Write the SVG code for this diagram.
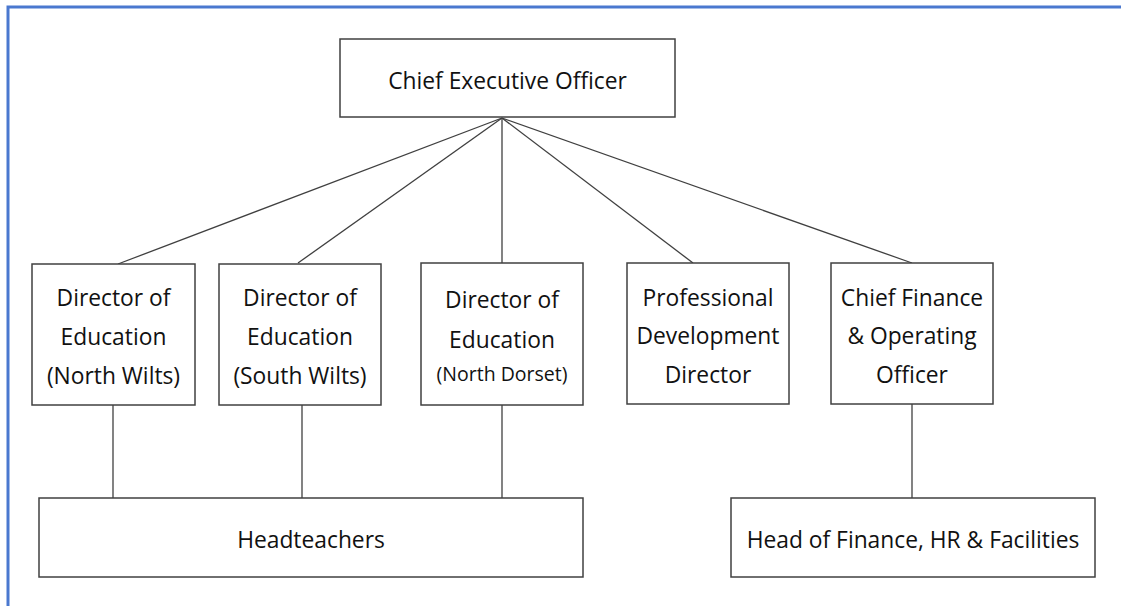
<svg xmlns="http://www.w3.org/2000/svg" width="1121" height="606" viewBox="0 0 1121 606">
<style>
.box{fill:#fff;stroke:#404040;stroke-width:1.5}
.t{font-family:"Open Sans","Noto Sans","Liberation Sans",sans-serif;font-size:22.8px;fill:#111;text-anchor:middle}
.s{font-size:19.5px}
.c line{stroke:#404040;stroke-width:1.3}
</style>
<rect x="0" y="0" width="1121" height="606" fill="#fff"/>
<path d="M8 606 V7 H1121" fill="none" stroke="#4a78cf" stroke-width="3"/>
<g class="c" id="connectors">
<line x1="502" y1="118" x2="118" y2="264"/>
<line x1="502" y1="118" x2="298" y2="263"/>
<line x1="502" y1="118" x2="502" y2="263"/>
<line x1="502" y1="118" x2="693" y2="263"/>
<line x1="502" y1="118" x2="912" y2="263"/>
<line x1="113" y1="405" x2="113" y2="498"/>
<line x1="302" y1="405" x2="302" y2="498"/>
<line x1="502" y1="405" x2="502" y2="498"/>
<line x1="912" y1="404" x2="912" y2="498"/>
</g>
<g id="ceo"><rect class="box" x="340" y="39" width="335" height="78"/><text class="t" x="507.5" y="89">Chief Executive Officer</text></g>
<g id="dir-nw"><rect class="box" x="32" y="264" width="163" height="141"/>
<text class="t" x="113.5" y="306">Director of</text><text class="t" x="113.5" y="345">Education</text><text class="t" x="113.5" y="384">(North Wilts)</text></g>
<g id="dir-sw"><rect class="box" x="219" y="264" width="162" height="141"/>
<text class="t" x="300" y="306">Director of</text><text class="t" x="300" y="345">Education</text><text class="t" x="300" y="384">(South Wilts)</text></g>
<g id="dir-nd"><rect class="box" x="421" y="263" width="162" height="142"/>
<text class="t" x="502" y="308">Director of</text><text class="t" x="502" y="348">Education</text><text class="t s" x="502" y="381">(North Dorset)</text></g>
<g id="pdd"><rect class="box" x="627" y="263" width="162" height="141"/>
<text class="t" x="708" y="306">Professional</text><text class="t" x="708" y="344">Development</text><text class="t" x="708" y="383">Director</text></g>
<g id="cfo"><rect class="box" x="831" y="263" width="162" height="141"/>
<text class="t" x="912" y="306">Chief Finance</text><text class="t" x="912" y="344">&amp; Operating</text><text class="t" x="912" y="383">Officer</text></g>
<g id="headteachers"><rect class="box" x="39" y="498" width="544" height="79"/><text class="t" x="311" y="548">Headteachers</text></g>
<g id="hof"><rect class="box" x="731" y="498" width="364" height="79"/><text class="t" x="913" y="548">Head of Finance, HR &amp; Facilities</text></g>
</svg>
